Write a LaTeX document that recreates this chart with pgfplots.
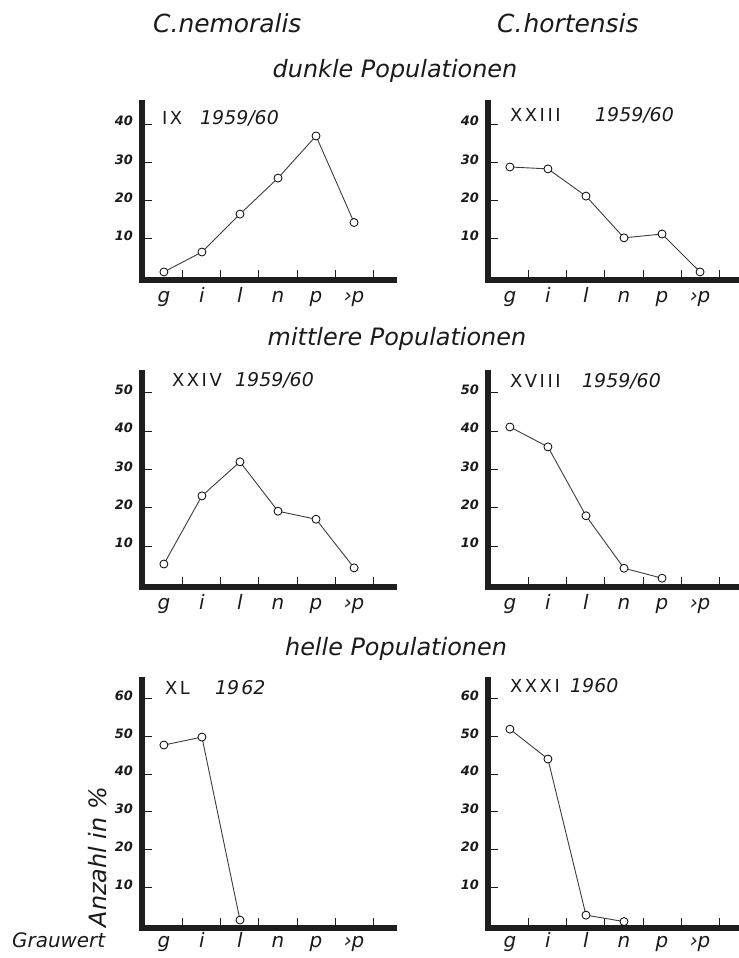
\documentclass[border=0pt]{standalone}
\usepackage{fontspec}
\setmainfont{DejaVu Sans}
\usepackage{pgfplots}
\pgfplotsset{compat=1.18}
\definecolor{axcol}{HTML}{1E1E1E}
\definecolor{lncol}{HTML}{3C3C3C}
\definecolor{txt}{HTML}{1A1A1A}
\pgfplotsset{
 panel/.style={
  scale only axis, width=252bp, anchor=south west,
  axis x line=bottom, axis y line=left,
  axis line style={-, line width=5.5bp, draw=axcol, line cap=rect},
  xmin=0.424, xmax=7.05, ymin=-0.7,
  xtick={1.5,2.5,3.5,4.5,5.5,6.5}, xticklabels={},
  extra x ticks={1,2,3,4,5,6}, extra x tick labels={g,i,l,n,p,›p},
  extra x tick style={major tick length=0pt, tick style={draw=none}},
  tick align=inside, major tick length=10bp,
  every tick/.style={line width=1bp, draw=axcol},
  xticklabel style={font=\fontsize{20}{20}\selectfont\itshape, anchor=base, inner sep=0pt, yshift=-23bp, text=txt},
  yticklabel style={font=\fontsize{13}{13}\selectfont\bfseries\itshape, anchor=east, inner sep=0pt, xshift=-9bp, yshift=3bp, text=txt},
  /pgf/number format/assume math mode=true,
  clip=false,
 },
 dat/.style={draw=lncol, line width=0.9bp, mark=*, mark size=4bp, mark options={fill=white, draw=black, line width=0.8bp}},
}
\tikzset{
 big/.style={anchor=base west, inner sep=0pt, text=txt, font=\fontsize{25}{25}\selectfont\itshape},
 sec/.style={anchor=base, inner sep=0pt, text=txt, font=\fontsize{24}{24}\selectfont\itshape},
 rom/.style={anchor=base west, inner sep=0pt, text=txt, font=\fontsize{18}{18}\selectfont},
 yr/.style={anchor=base west, inner sep=0pt, text=txt, font=\fontsize{19}{19}\selectfont\itshape},
}
\newcommand{\rs}{\kern2.5pt}
\begin{document}
\begin{tikzpicture}
\useasboundingbox (0,0) rectangle (739bp,958bp);
% top row
\begin{axis}[panel, at={(142bp,678bp)}, height=177bp, ymax=45.5, ytick={10,20,30,40}]
\addplot[dat] coordinates {(1,1.4)(2,6.6)(3,16.5)(4,25.9)(5,36.9)(6,14.3)};
\end{axis}
\begin{axis}[panel, at={(488bp,678bp)}, height=177bp, ymax=45.5, ytick={10,20,30,40}]
\addplot[dat] coordinates {(1,28.8)(2,28.3)(3,21.2)(4,10.3)(5,11.3)(6,1.4)};
\end{axis}
% middle row
\begin{axis}[panel, at={(142bp,371bp)}, height=214bp, ymax=55.2, ytick={10,20,30,40,50}]
\addplot[dat] coordinates {(1,5.3)(2,23.1)(3,32.0)(4,19.1)(5,17.0)(6,4.3)};
\end{axis}
\begin{axis}[panel, at={(488bp,371bp)}, height=214bp, ymax=55.2, ytick={10,20,30,40,50}]
\addplot[dat] coordinates {(1,41.1)(2,35.9)(3,17.9)(4,4.2)(5,1.6)};
\end{axis}
% bottom row
\begin{axis}[panel, at={(142bp,30bp)}, height=248bp, ymax=64.9, ytick={10,20,30,40,50,60}, xticklabel style={yshift=3bp}]
\addplot[dat] coordinates {(1,47.7)(2,49.8)(3,1.4)};
\end{axis}
\begin{axis}[panel, at={(488bp,30bp)}, height=248bp, ymax=64.9, ytick={10,20,30,40,50,60}, xticklabel style={yshift=3bp}]
\addplot[dat] coordinates {(1,51.9)(2,44.0)(3,2.7)(4,1.0)};
\end{axis}
% titles
\node[big] at (153bp,925bp) {C.nemoralis};
\node[big] at (497bp,925bp) {C.\kern1pt hortensis};
\node[sec] at (395bp,880bp) {dunkle Populationen};
\node[sec] at (397bp,612bp) {mittlere Populationen};
\node[sec] at (396bp,302bp) {helle Populationen};
% panel labels
\node[rom] at (162bp,833bp) {I\rs X};
\node[yr]  at (200bp,833bp) {1959/60};
\node[rom] at (510bp,836bp) {X\rs X\rs I\rs I\rs I};
\node[yr]  at (595bp,836bp) {1959/60};
\node[rom] at (172bp,571bp) {X\rs X\rs I\rs V};
\node[yr]  at (235bp,571bp) {1959/60};
\node[rom] at (510bp,570bp) {X\rs V\rs I\rs I\rs I};
\node[yr]  at (582bp,570bp) {1959/60};
\node[rom] at (165bp,263bp) {X\rs L};
\node[yr]  at (215bp,263bp) {19\kern2pt 62};
\node[rom] at (510bp,265bp) {X\rs X\rs X\rs I};
\node[yr]  at (570bp,265bp) {1960};
% axis captions
\node[anchor=center, inner sep=0pt, text=txt, rotate=90, font=\fontsize{24}{24}\selectfont\itshape] at (98bp,101bp) {Anzahl in \%};
\node[anchor=base west, inner sep=0pt, text=txt, font=\fontsize{20}{20}\selectfont\itshape] at (12bp,11bp) {Grauwert};
\end{tikzpicture}
\end{document}
